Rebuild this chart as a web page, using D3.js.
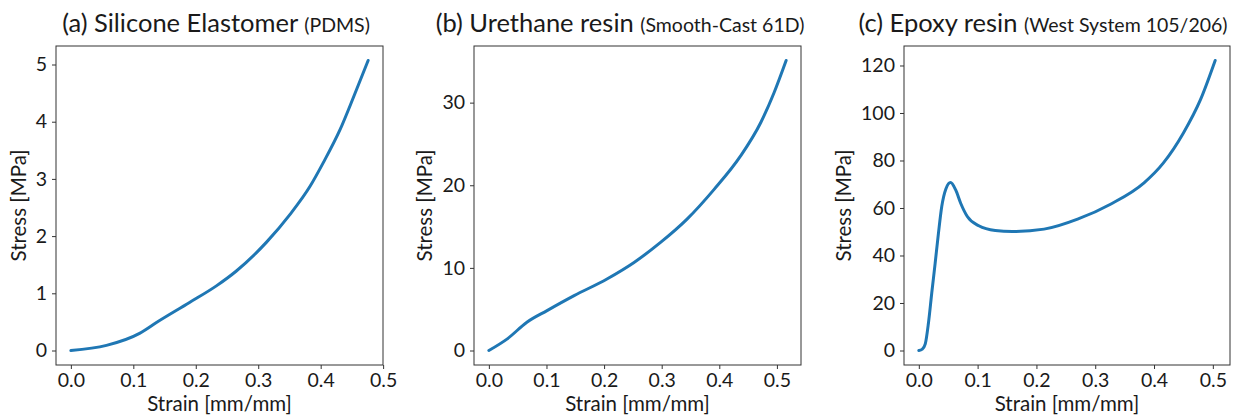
<!DOCTYPE html>
<html>
<head>
<meta charset="utf-8">
<title>stress strain curves</title>
<script src="https://d3js.org/d3.v7.min.js"></script>
<style>
  body {margin: 0; background: #fff;}
  svg text {font-family: Lato, "DejaVu Sans", sans-serif; fill: #1a1a1a;}
  .axlabel {font-size: 20.5px;}
  .title {font-size: 25.5px;}
  .sub {font-size: 19.5px;}
</style>
</head>
<body>
<svg id="fig" width="1238" height="416"></svg>
<script>
// values
var strainA = [0, 0.057, 0.110, 0.137, 0.190, 0.233, 0.265, 0.313, 0.351, 0.383, 0.404, 0.431, 0.453, 0.476];
var stressA = [0, 0.09, 0.30, 0.49, 0.84, 1.13, 1.39, 1.89, 2.38, 2.87, 3.28, 3.86, 4.44, 5.07];

var strainB = [0, 0.032, 0.066, 0.101, 0.148, 0.205, 0.252, 0.298, 0.344, 0.391, 0.437, 0.472, 0.495, 0.516];
var stressB = [0, 1.41, 3.42, 4.83, 6.64, 8.66, 10.66, 13.08, 15.9, 19.5, 23.55, 27.6, 31.2, 35.1];

var strainC = [0, 0.006, 0.011, 0.0164, 0.022, 0.0278, 0.0334, 0.039, 0.046, 0.054, 0.0627, 0.0712, 0.0825, 0.102, 0.130, 0.159, 0.213, 0.270, 0.326, 0.383, 0.416, 0.450, 0.479, 0.504];
var stressC = [0, 0.6, 2.8, 11.6, 24.2, 36.8, 49.4, 60.6, 68.0, 70.7, 67.6, 62.0, 56.4, 52.5, 50.5, 50.1, 51.1, 55.3, 61.6, 70.6, 79.0, 91.6, 105.6, 122.1];

var xTicks = [0, 0.1, 0.2, 0.3, 0.4, 0.5];
var yTicksA = [0, 1, 2, 3, 4, 5];
var yTicksB = [0, 10, 20, 30];
var yTicksC = [0, 20, 40, 60, 80, 100, 120];

var titleMain = ["(a) Silicone Elastomer", "(b) Urethane resin", "(c) Epoxy resin"];
var titleSub = ["(PDMS)", "(Smooth-Cast 61D)", "(West System 105/206)"];
var xLabel = "Strain [mm/mm]";
var yLabel = "Stress [MPa]";

// frame positions of the three axes, and where each title is centred
var frames = [[56, 383], [474, 801], [904, 1230]];
var titleX = [216, 620, 1043];
var plotTop = 46, plotBottom = 365;

var series = [[strainA, stressA, yTicksA], [strainB, stressB, yTicksB], [strainC, stressC, yTicksC]];

var svg = d3.select("#fig");

// matplotlib style 5% margins
function padded(v) {
    var lo = d3.min(v), hi = d3.max(v), m = (hi - lo) * 0.05;
    return [lo - m, hi + m];
}

series.forEach(function(s, i) {
    var xs = s[0], ys = s[1];
    var L = frames[i][0], R = frames[i][1];
    var x = d3.scaleLinear().domain(padded(xs)).range([L, R]);
    var y = d3.scaleLinear().domain(padded(ys)).range([plotBottom, plotTop]);

    var g = svg.append("g");

    var xa = g.append("g").attr("transform", "translate(0," + plotBottom + ")")
        .call(d3.axisBottom(x).tickValues(xTicks).tickFormat(d3.format(".1f")).tickSizeInner(4).tickSizeOuter(0).tickPadding(4));
    var ya = g.append("g").attr("transform", "translate(" + L + ",0)")
        .call(d3.axisLeft(y).tickValues(s[2]).tickFormat(d3.format("d")).tickSizeInner(4).tickSizeOuter(0).tickPadding(5));
    g.selectAll(".domain").remove();
    g.selectAll(".tick line").attr("stroke", "#333").attr("stroke-width", 1);
    g.selectAll(".tick text").style("font-size", "19.5px");
    xa.attr("font-family", null).attr("font-size", null);
    ya.attr("font-family", null).attr("font-size", null);

    g.append("rect")
        .attr("x", L).attr("y", plotTop)
        .attr("width", R - L).attr("height", plotBottom - plotTop)
        .attr("fill", "none").attr("stroke", "#333").attr("stroke-width", 1);

    var pts = xs.map(function(v, k) { return [v, ys[k]]; });
    g.append("path")
        .datum(pts)
        .attr("fill", "none")
        .attr("stroke", "#1f77b4")
        .attr("stroke-width", 3)
        .attr("stroke-linecap", "round")
        .attr("d", d3.line().x(function(d) { return x(d[0]); }).y(function(d) { return y(d[1]); }).curve(d3.curveMonotoneX));

    var cx = (L + R) / 2;
    var t = g.append("text").attr("x", titleX[i]).attr("y", 32).attr("text-anchor", "middle");
    t.append("tspan").attr("class", "title").text(titleMain[i] + " ");
    t.append("tspan").attr("class", "sub").text(titleSub[i]);

    g.append("text").attr("class", "axlabel")
        .attr("x", cx).attr("y", 411).attr("text-anchor", "middle")
        .text(xLabel);

    var bb = ya.node().getBBox();
    var lx = L + bb.x - 10;
    g.append("text").attr("class", "axlabel")
        .attr("transform", "translate(" + lx + "," + ((plotTop + plotBottom) / 2) + ") rotate(-90)")
        .attr("text-anchor", "middle")
        .text(yLabel);
});
</script>
</body>
</html>
